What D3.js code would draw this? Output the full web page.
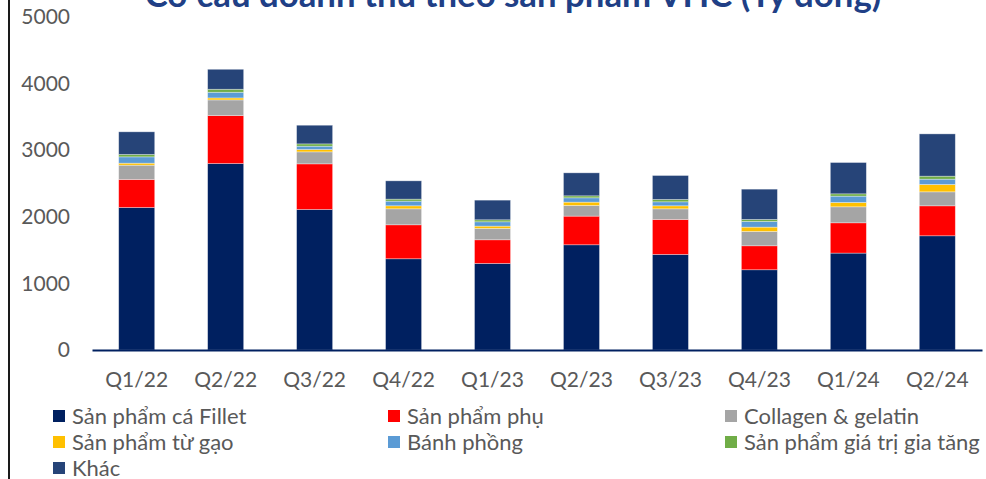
<!DOCTYPE html>
<html>
<head>
<meta charset="utf-8">
<script src="https://cdn.jsdelivr.net/npm/d3@7"></script>
<style>
  body { margin: 0; background: #fff; }
  svg { display: block; font-family: Lato, "Open Sans", sans-serif; }
</style>
</head>
<body>
<svg width="986" height="479"></svg>
<script>
var quarters = ["Q1/22", "Q2/22", "Q3/22", "Q4/22", "Q1/23", "Q2/23", "Q3/23", "Q4/23", "Q1/24", "Q2/24"];

var fillet    = [2140, 2800, 2110, 1370, 1300, 1580, 1435, 1205, 1455, 1715];
var phu       = [420, 720, 685, 510, 355, 430, 525, 360, 455, 450];
var collagen  = [215, 235, 180, 240, 170, 160, 160, 215, 240, 210];
var gao       = [30, 30, 35, 45, 35, 50, 45, 65, 65, 110];
var banhPhong = [95, 85, 50, 70, 65, 65, 60, 85, 95, 80];
var giaTri    = [36, 45, 35, 30, 30, 30, 35, 30, 35, 45];
var khac      = [340, 300, 280, 275, 295, 345, 360, 455, 470, 635];

var seriesNames = ["Sản phẩm cá Fillet", "Sản phẩm phụ", "Collagen & gelatin",
    "Sản phẩm từ gạo", "Bánh phồng", "Sản phẩm giá trị gia tăng", "Khác"];
var seriesValues = [fillet, phu, collagen, gao, banhPhong, giaTri, khac];
var colors = ["#002060", "#ff0000", "#a5a5a5", "#ffc000", "#5b9bd5", "#70ad47", "#264478"];
var yTicks = [0, 1000, 2000, 3000, 4000, 5000];

var svg = d3.select("svg"),
    margin = {top: 17, right: 4, bottom: 129, left: 92},
    width = +svg.attr("width") - margin.left - margin.right,
    height = +svg.attr("height") - margin.top - margin.bottom,
    g = svg.append("g").attr("transform", "translate(" + margin.left + "," + margin.top + ")");

// rows for the stack
var rows = quarters.map(function (q, i) {
    var r = {q: q};
    seriesNames.forEach(function (s, j) { r[s] = seriesValues[j][i]; });
    return r;
});
var stacked = d3.stack().keys(seriesNames)(rows);

var x = d3.scaleBand()
    .domain(quarters)
    .range([0, width])
    .paddingInner(0.595)
    .paddingOuter(0.3);

var y = d3.scaleLinear()
    .domain([0, 5000])
    .range([height, 0]);

// left frame line
svg.append("line")
    .attr("x1", 9).attr("x2", 9)
    .attr("y1", 0).attr("y2", 479)
    .attr("stroke", "#1a1a1a")
    .attr("stroke-width", 2);

// bars
g.selectAll(".layer")
    .data(stacked)
    .enter().append("g")
    .attr("class", "layer")
    .attr("fill", function (d, i) { return colors[i]; })
    .selectAll("rect")
    .data(function (d) { return d; })
    .enter().append("rect")
    .attr("x", function (d) { return x(d.data.q); })
    .attr("y", function (d) { return y(d[1]); })
    .attr("width", x.bandwidth())
    .attr("height", function (d) { return y(d[0]) - y(d[1]); })
    .attr("stroke", "#ffffff")
    .attr("stroke-opacity", 0.45)
    .attr("stroke-width", 0.75);

// y axis (labels only)
var yAxis = g.append("g")
    .call(d3.axisLeft(y).tickValues(yTicks).tickSize(0).tickPadding(22).tickFormat(d3.format("d")));
yAxis.select(".domain").remove();
yAxis.selectAll("text")
    .attr("fill", "#595959")
    .style("font-size", "21px")
    .style("font-family", "Lato, sans-serif");

// x axis
var xAxis = g.append("g")
    .attr("transform", "translate(0," + height + ")")
    .call(d3.axisBottom(x).tickSize(0).tickPadding(22));
xAxis.select(".domain")
    .attr("stroke", "#002060")
    .attr("stroke-width", 2);
xAxis.selectAll("text")
    .attr("fill", "#595959")
    .style("font-size", "21px")
    .style("font-family", "Lato, sans-serif");

// title (top is cropped in the original)
var title = svg.append("text")
    .attr("x", 513)
    .attr("y", 7)
    .attr("text-anchor", "middle")
    .attr("fill", "#203f86")
    .style("font-weight", "bold")
    .style("font-size", "28px")
    .text("Cơ cấu doanh thu theo sản phẩm VHC (Tỷ đồng)");
var tw = title.node().getComputedTextLength();
title.style("font-size", (28 * 737 / tw) + "px");

// legend
var legendCols = [53, 388, 725],
    legendRows = [416, 442, 468];
var legend = svg.append("g").selectAll("g")
    .data(seriesNames)
    .enter().append("g")
    .attr("transform", function (d, i) {
        return "translate(" + legendCols[i % 3] + "," + legendRows[Math.floor(i / 3)] + ")";
    });
legend.append("rect")
    .attr("x", 0).attr("y", -6)
    .attr("width", 12).attr("height", 12)
    .attr("fill", function (d, i) { return colors[i]; });
legend.append("text")
    .attr("x", 19)
    .attr("dy", "0.36em")
    .attr("fill", "#595959")
    .style("font-size", "22px")
    .text(function (d) { return d; });
</script>
</body>
</html>
